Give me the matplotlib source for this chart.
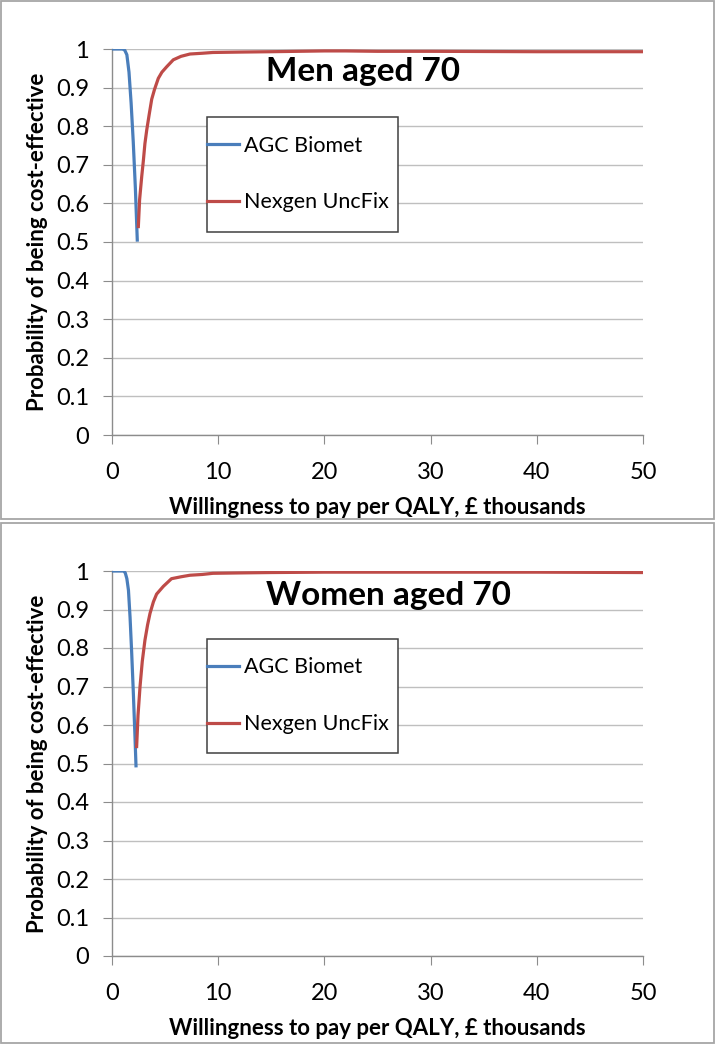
import matplotlib
matplotlib.use('Agg')
import matplotlib.pyplot as plt
from matplotlib.patches import Rectangle
import numpy as np

plt.rcParams['font.family'] = ['Lato', 'DejaVu Sans']

# ---------------------------------------------------------------------------
# data (willingness to pay in £ thousands, probability)
# ---------------------------------------------------------------------------
men_blue_x = [0, 1.0, 1.2, 1.4, 1.6, 1.8, 2.0, 2.2, 2.38]
men_blue_y = [1, 1, 0.997, 0.985, 0.94, 0.86, 0.76, 0.64, 0.505]
men_red_x = [2.48, 2.6, 2.8, 2.95, 3.1, 3.27, 3.5, 3.74, 4.0, 4.36, 4.7, 5.15,
             5.77, 6.5, 7.34, 8.5, 9.5, 12, 15, 20, 22, 25, 30, 40, 50]
men_red_y = [0.54, 0.61, 0.67, 0.71, 0.755, 0.79, 0.83, 0.87, 0.895, 0.924, 0.94, 0.954,
             0.972, 0.981, 0.987, 0.989, 0.991, 0.992, 0.993, 0.995, 0.995, 0.994, 0.994, 0.993, 0.993]

women_blue_x = [0, 1.1, 1.25, 1.4, 1.55, 1.7, 1.85, 2.0, 2.15, 2.26]
women_blue_y = [1, 1, 0.995, 0.98, 0.95, 0.88, 0.79, 0.69, 0.58, 0.494]
women_red_x = [2.32, 2.45, 2.64, 2.85, 3.1, 3.35, 3.58, 3.9, 4.2, 4.83, 5.6, 6.5,
               7.34, 8.5, 9.5, 12, 15, 20, 30, 40, 50]
women_red_y = [0.544, 0.625, 0.70, 0.765, 0.82, 0.86, 0.89, 0.92, 0.94, 0.96, 0.98, 0.985,
               0.989, 0.991, 0.994, 0.995, 0.996, 0.997, 0.997, 0.997, 0.996]

series_names = ['AGC Biomet', 'Nexgen UncFix']
titles = ['Men aged 70', 'Women aged 70']
x_ticks = [0, 10, 20, 30, 40, 50]
y_ticks = [0, 0.1, 0.2, 0.3, 0.4, 0.5, 0.6, 0.7, 0.8, 0.9, 1]
y_tick_labels = ['0', '0.1', '0.2', '0.3', '0.4', '0.5', '0.6', '0.7', '0.8', '0.9', '1']

BLUE = '#4a7ebb'
RED = '#be4b48'
GRID = '#bfbfbf'
AXIS = '#8c8c8c'

W, H = 716, 1045
fig = plt.figure(figsize=(W / 100, H / 100), dpi=100)


def panel(rect_px, box_px, bx, by, rx, ry, title, title_y):
    # rect_px: left, top, right, bottom of the plot area in pixels
    l, t, r, b = rect_px
    ax = fig.add_axes([l / W, 1 - b / H, (r - l) / W, (b - t) / H])

    # outer chart border
    bl, bt, br, bb = box_px
    fig.patches.append(Rectangle((bl / W, 1 - bb / H), (br - bl) / W, (bb - bt) / H,
                                 transform=fig.transFigure, fill=False,
                                 edgecolor='#a6a6a6', linewidth=1.3))

    ax.plot(bx, by, color=BLUE, linewidth=2.3, label=series_names[0], zorder=4)
    ax.plot(rx, ry, color=RED, linewidth=2.3, label=series_names[1], zorder=4)

    ax.set_xlim(0, 50)
    ax.set_ylim(0, 1)
    ax.set_xticks(x_ticks)
    ax.set_yticks(y_ticks)
    ax.set_yticklabels(y_tick_labels)
    ax.yaxis.grid(True, color=GRID, linewidth=1.0)
    ax.set_axisbelow(True)
    for s in ['top', 'right']:
        ax.spines[s].set_visible(False)
    for s in ['left', 'bottom']:
        ax.spines[s].set_color(AXIS)
        ax.spines[s].set_linewidth(1.0)
    ax.tick_params(axis='both', direction='out', length=6.5, color=AXIS, labelsize=17)
    ax.tick_params(axis='y', pad=10)
    ax.tick_params(axis='x', pad=13)

    ax.set_xlabel('Willingness to pay per QALY, £ thousands', fontsize=16, fontweight='bold', labelpad=10)
    ax.set_ylabel('Probability of being cost-effective', fontsize=16, fontweight='bold', labelpad=6)

    ax.text(14.5, title_y, title, fontsize=24, fontweight='bold', ha='left', va='baseline', zorder=5)

    # legend box (Excel style, stretched)
    ax.add_patch(Rectangle((0.179, 0.526), 0.36, 0.298, transform=ax.transAxes,
                           facecolor='white', edgecolor='#404040', linewidth=1.1, zorder=3))
    leg = ax.legend(loc='center left', bbox_to_anchor=(0.178, 0.676), frameon=False,
                    fontsize=15.5, handlelength=1.5, handletextpad=0.25,
                    labelspacing=1.7, borderpad=0, borderaxespad=0)
    leg.set_zorder(6)
    return ax


panel((112, 49, 643, 435), (1, 1, 714, 519), men_blue_x, men_blue_y, men_red_x, men_red_y,
      titles[0], 0.918)
panel((112, 571, 643, 956), (1, 523, 714, 1043), women_blue_x, women_blue_y, women_red_x, women_red_y,
      titles[1], 0.912)

fig.savefig('out.png', dpi=100)
